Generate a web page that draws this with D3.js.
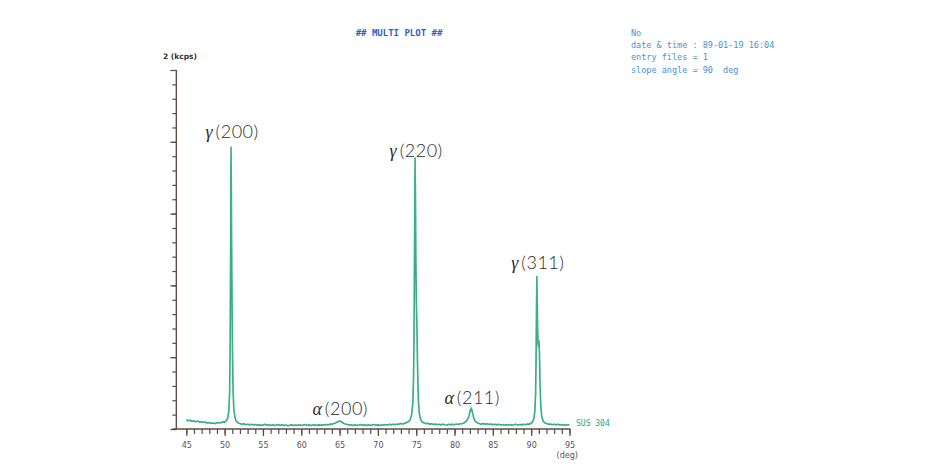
<!DOCTYPE html>
<html>
<head>
<meta charset="utf-8">
<script src="https://cdn.jsdelivr.net/npm/d3@7"></script>
<style>
  body { margin: 0; background: #fff; }
  svg { display: block; }
</style>
</head>
<body>
<div id="chart"></div>
<script>
/* XRD scan of SUS 304, 2theta (deg) vs intensity (kcps) */
var scan = [
  [45.00,0.052],[45.25,0.046],[45.50,0.049],[45.75,0.043],[46.00,0.045],[46.25,0.040],[46.50,0.044],[46.75,0.038],
  [47.00,0.041],[47.25,0.036],[47.50,0.039],[47.75,0.033],[48.00,0.036],[48.25,0.031],[48.50,0.034],[48.75,0.030],
  [49.00,0.033],[49.25,0.036],[49.50,0.034],[49.75,0.040],[50.00,0.037],
  [50.20,0.045],[50.40,0.060],[50.55,0.100],[50.65,0.200],[50.72,0.450],[50.78,0.950],[50.82,1.450],[50.84,1.570],
  [50.87,1.400],[50.91,1.050],[50.96,0.750],[51.02,0.450],[51.10,0.220],[51.20,0.110],[51.35,0.065],[51.50,0.045],[51.75,0.035],
  [52.00,0.030],[52.25,0.026],[52.50,0.029],[52.75,0.024],[53.00,0.027],[53.25,0.023],[53.50,0.026],[53.75,0.022],
  [54.00,0.025],[54.25,0.021],[54.50,0.024],[54.75,0.020],[55.00,0.023],[55.25,0.026],[55.50,0.021],[55.75,0.024],
  [56.00,0.020],[56.25,0.023],[56.50,0.019],[56.75,0.022],[57.00,0.025],[57.25,0.020],[57.50,0.023],[57.75,0.019],
  [58.00,0.022],[58.25,0.018],[58.50,0.021],[58.75,0.024],[59.00,0.019],[59.25,0.022],[59.50,0.020],[59.75,0.023],
  [60.00,0.019],[60.25,0.022],[60.50,0.025],[60.75,0.020],[61.00,0.023],[61.25,0.019],[61.50,0.022],[61.75,0.024],
  [62.00,0.020],[62.25,0.023],[62.50,0.021],[62.75,0.024],[63.00,0.022],[63.25,0.025],[63.50,0.023],[63.75,0.027],
  [64.00,0.026],[64.25,0.030],[64.50,0.034],[64.75,0.040],[65.00,0.044],[65.25,0.040],[65.50,0.032],[65.75,0.028],
  [66.00,0.025],[66.25,0.022],[66.50,0.024],[66.75,0.020],[67.00,0.023],[67.25,0.019],[67.50,0.022],[67.75,0.025],
  [68.00,0.021],[68.25,0.024],[68.50,0.020],[68.75,0.023],[69.00,0.019],[69.25,0.022],[69.50,0.025],[69.75,0.021],
  [70.00,0.023],[70.25,0.020],[70.50,0.024],[70.75,0.021],[71.00,0.025],[71.25,0.022],[71.50,0.026],[71.75,0.023],
  [72.00,0.027],[72.25,0.024],[72.50,0.028],[72.75,0.026],[73.00,0.030],[73.25,0.028],[73.50,0.032],[73.75,0.036],
  [74.00,0.042],[74.20,0.050],[74.40,0.080],[74.55,0.140],[74.65,0.280],[74.72,0.550],[74.78,1.000],[74.83,1.400],
  [74.86,1.510],[74.90,1.300],[74.95,0.950],[75.02,0.700],[75.10,0.550],[75.18,0.330],[75.28,0.160],[75.40,0.090],
  [75.55,0.055],[75.75,0.040],
  [76.00,0.034],[76.25,0.030],[76.50,0.032],[76.75,0.027],[77.00,0.029],[77.25,0.025],[77.50,0.028],[77.75,0.024],
  [78.00,0.026],[78.25,0.023],[78.50,0.027],[78.75,0.024],[79.00,0.022],[79.25,0.026],[79.50,0.023],[79.75,0.027],
  [80.00,0.024],[80.25,0.028],[80.50,0.025],[80.75,0.029],[81.00,0.030],[81.25,0.034],[81.50,0.042],[81.75,0.058],
  [81.90,0.075],[82.00,0.095],[82.10,0.110],[82.17,0.117],[82.25,0.108],[82.40,0.080],[82.55,0.055],[82.75,0.040],
  [83.00,0.034],[83.25,0.030],[83.50,0.027],[83.75,0.031],[84.00,0.026],[84.25,0.029],[84.50,0.025],[84.75,0.028],
  [85.00,0.024],[85.25,0.027],[85.50,0.023],[85.75,0.026],[86.00,0.022],[86.25,0.025],[86.50,0.021],[86.75,0.024],
  [87.00,0.022],[87.25,0.025],[87.50,0.021],[87.75,0.024],[88.00,0.026],[88.25,0.022],[88.50,0.025],[88.75,0.023],
  [89.00,0.026],[89.25,0.024],[89.50,0.028],[89.75,0.027],
  [90.00,0.032],[90.20,0.042],[90.35,0.060],[90.48,0.100],[90.58,0.200],[90.64,0.400],[90.69,0.650],[90.74,0.850],
  [90.78,0.750],[90.84,0.550],[90.90,0.470],[90.96,0.460],[91.03,0.490],[91.08,0.420],[91.15,0.260],[91.25,0.130],
  [91.38,0.070],[91.55,0.045],[91.75,0.035],
  [92.00,0.030],[92.25,0.026],[92.50,0.028],[92.75,0.024],[93.00,0.027],[93.25,0.023],[93.50,0.026],[93.75,0.022],
  [94.00,0.025],[94.25,0.021],[94.50,0.024],[94.75,0.022],[95.00,0.025]
];

var peakNames = ["200", "200", "220", "211", "311"];
var peakPhase = ["γ", "α", "γ", "α", "γ"];
var peakDeg = [50.84, 64.95, 74.86, 82.17, 90.74];
/* label baseline height, in kcps */
var peakLabelKcps = [1.621, 0.078, 1.518, 0.142, 0.894];

var xMajor = [45, 50, 55, 60, 65, 70, 75, 80, 85, 90, 95];
var yMax = 2;

var infoLines = ["No", "date & time : 89-01-19 16:04", "entry files = 1", "slope angle = 90  deg"];

var width = 948;
var height = 468;

var svg = d3.select("#chart").append("svg")
  .attr("width", width)
  .attr("height", height);

/* Scales */
var xScale = d3.scaleLinear()
  .domain([45, 95])
  .range([186.3, 569.5]);

var yScale = d3.scaleLinear()
  .domain([0, yMax])
  .range([429, 70]);

var axisColor = "#5b4c44";
var lineColor = "#22a87a";
var blue = "#4a8fdc";
var mono = "'DejaVu Sans Mono', monospace";

/* x axis */
var xAxisMinor = d3.axisBottom(xScale)
  .tickValues(d3.range(45, 96, 1))
  .tickSize(5)
  .tickFormat("");
var xAxisMajor = d3.axisBottom(xScale)
  .tickValues(xMajor)
  .tickSize(7)
  .tickPadding(6)
  .tickFormat(d3.format("d"));

[xAxisMinor, xAxisMajor].forEach(function(ax) {
  var g = svg.append("g")
    .attr("transform", "translate(0," + yScale(0) + ")")
    .call(ax);
  g.select(".domain").remove();
  g.selectAll("line").attr("stroke", axisColor).attr("stroke-width", 1.2);
  g.selectAll("text")
    .attr("fill", "#555")
    .style("font-family", "'DejaVu Sans', sans-serif")
    .style("font-size", "8px");
});

svg.append("line")
  .attr("x1", xScale(43.2)).attr("x2", xScale(95.1))
  .attr("y1", yScale(0)).attr("y2", yScale(0))
  .attr("stroke", axisColor).attr("stroke-width", 1.4);

svg.append("text")
  .attr("x", xScale(94.7)).attr("y", 458)
  .attr("text-anchor", "middle")
  .attr("fill", "#555")
  .style("font-family", "'DejaVu Sans', sans-serif")
  .style("font-size", "8px")
  .text("(deg)");

/* y axis */
var yAxisMinor = d3.axisLeft(yScale)
  .tickValues(d3.range(0, 25).map(function(i) { return i * 0.08; }))
  .tickSize(4)
  .tickFormat("");
var yAxisMajor = d3.axisLeft(yScale)
  .tickValues([0, 0.4, 0.8, 1.2, 1.6, 2])
  .tickSize(6)
  .tickFormat("");

var yX = xScale(43.7);
[yAxisMinor, yAxisMajor].forEach(function(ax) {
  var g = svg.append("g")
    .attr("transform", "translate(" + yX + ",0)")
    .call(ax);
  g.select(".domain").remove();
  g.selectAll("line").attr("stroke", axisColor).attr("stroke-width", 1.2);
});

svg.append("line")
  .attr("x1", yX).attr("x2", yX)
  .attr("y1", yScale(yMax)).attr("y2", yScale(0))
  .attr("stroke", axisColor).attr("stroke-width", 1.4);

svg.append("text")
  .attr("x", 163).attr("y", 59)
  .attr("fill", "#333")
  .style("font-family", "'DejaVu Sans', sans-serif")
  .style("font-size", "7.5px")
  .style("font-weight", "bold")
  .text("2 (kcps)");

/* Scan line */
var line = d3.line()
  .x(function(d) { return xScale(d[0]); })
  .y(function(d) { return yScale(d[1]); });

svg.append("path")
  .datum(scan)
  .attr("d", line)
  .attr("fill", "none")
  .attr("stroke", lineColor)
  .attr("stroke-width", 1.6)
  .attr("stroke-linejoin", "round");

svg.append("path")
  .datum(scan)
  .attr("d", line)
  .attr("fill", "none")
  .attr("stroke", "#8fd6a0")
  .attr("stroke-width", 0.4)
  .attr("opacity", 0.6);

svg.append("text")
  .attr("x", 576).attr("y", 426)
  .attr("fill", lineColor)
  .style("font-family", mono)
  .style("font-size", "8px")
  .text("SUS 304");

/* Peak labels */
var labels = svg.append("g");
peakDeg.forEach(function(d, i) {
  var t = labels.append("text")
    .attr("x", xScale(d) + 1)
    .attr("y", yScale(peakLabelKcps[i]))
    .attr("text-anchor", "middle")
    .attr("fill", "#2b2b2b")
    .style("font-family", "Lato, 'Open Sans', sans-serif")
    .style("font-size", "18px")
    .style("letter-spacing", "0.5px");
  t.append("tspan")
    .style("font-family", "'Liberation Serif', serif")
    .style("font-style", "italic")
    .text(peakPhase[i]);
  t.append("tspan")
    .attr("dx", 2.5)
    .style("font-weight", "300")
    .text("(" + peakNames[i] + ")");
});

/* Header */
svg.append("text")
  .attr("x", 399).attr("y", 36)
  .attr("text-anchor", "middle")
  .attr("fill", "#2a62c8")
  .style("font-family", mono)
  .style("font-size", "9px")
  .style("font-weight", "bold")
  .text("## MULTI PLOT ##");

svg.append("g").selectAll("text")
  .data(infoLines).enter()
  .append("text")
  .attr("x", 631)
  .attr("y", function(d, i) { return 36 + i * 12.2; })
  .attr("fill", blue)
  .attr("xml:space", "preserve")
  .style("white-space", "pre")
  .style("font-family", mono)
  .style("font-size", "8.5px")
  .text(function(d) { return d; });
</script>
</body>
</html>
